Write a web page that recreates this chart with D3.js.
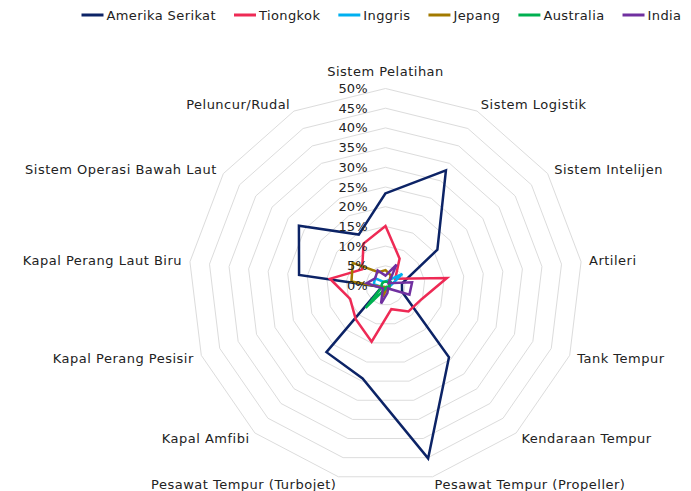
<!DOCTYPE html>
<html>
<head>
<meta charset="utf-8">
<script src="https://cdn.jsdelivr.net/npm/d3@7"></script>
<style>
  body { margin: 0; background: #fff; }
  text { font-family: "DejaVu Sans", sans-serif; fill: #222; }
</style>
</head>
<body>
<svg id="chart"></svg>
<script>
const categories = ["Sistem Pelatihan", "Sistem Logistik", "Sistem Intelijen", "Artileri", "Tank Tempur",
  "Kendaraan Tempur", "Pesawat Tempur (Propeller)", "Pesawat Tempur (Turbojet)", "Kapal Amfibi",
  "Kapal Perang Pesisir", "Kapal Perang Laut Biru", "Sistem Operasi Bawah Laut", "Peluncur/Rudal"];

const seriesNames = ["Amerika Serikat", "Tiongkok", "Inggris", "Jepang", "Australia", "India"];

const amerikaSerikat = [23.4, 33.0, 16.0, 4.2, 4.5, 24.3, 45.2, 24.3, 22.6, 1.0, 22.1, 26.7, 14.6];
const tiongkok       = [15.1, 7.7, 3.0, 15.7, 9.8, 8.8, 6.2, 14.7, 11.4, 9.6, 14.2, 7.2, 12.0];
const inggris        = [1.0, 1.5, 5.2, 1.5, 1.0, 0.5, 0.5, 0.5, 0.5, 1.0, 3.0, 3.2, 1.0];
const jepang         = [3.9, 2.9, 1.0, 1.0, 1.0, 0.5, 1.0, 2.9, 0.5, 1.0, 8.7, 10.1, 3.8];
const australia      = [1.0, 1.0, 1.5, 1.0, 1.0, 0.5, 0.5, 1.0, 7.6, 1.0, 1.0, 1.0, 1.0];
const india          = [2.5, 6.0, 1.0, 6.8, 6.5, 1.0, 2.0, 4.7, 1.0, 1.5, 4.8, 3.2, 4.3];

const tickValues = [0, 5, 10, 15, 20, 25, 30, 35, 40, 45, 50];

const allSeries = [amerikaSerikat, tiongkok, inggris, jepang, australia, india];
const colors = ["#0c2366", "#ee2a55", "#00b0f0", "#a27a00", "#00b050", "#7030a0"];

const width = 691, height = 491;
const cx = 385.5, cy = 285.5, R = 197;
const n = categories.length;

const svg = d3.select("#chart").attr("width", width).attr("height", height);

const r = d3.scaleLinear().domain([0, 50]).range([0, R]);
const angle = d3.scaleLinear().domain([0, n]).range([0, 2 * Math.PI]);

const g = svg.append("g").attr("transform", `translate(${cx},${cy})`);

const radial = d3.lineRadial()
  .angle((d, i) => angle(i))
  .radius(d => r(d))
  .curve(d3.curveLinearClosed);

// grid rings
g.selectAll(".ring")
  .data(tickValues.filter(t => t > 0))
  .enter()
  .append("path")
  .attr("class", "ring")
  .attr("d", t => radial(categories.map(() => t)))
  .attr("fill", "none")
  .attr("stroke", "#dcdcdc")
  .attr("stroke-width", 1);

// series
g.selectAll(".series")
  .data(allSeries)
  .enter()
  .append("path")
  .attr("class", "series")
  .attr("d", d => radial(d))
  .attr("fill", "none")
  .attr("stroke", (d, i) => colors[i])
  .attr("stroke-width", 2.5)
  .attr("stroke-linejoin", "miter");

// tick labels
g.selectAll(".tick")
  .data(tickValues)
  .enter()
  .append("text")
  .attr("class", "tick")
  .attr("x", -18)
  .attr("y", t => -r(t))
  .attr("dy", "0.35em")
  .attr("text-anchor", "end")
  .style("font-size", "13px")
  .text(t => t + "%");

// axis names
const labelR = R + 8;
g.selectAll(".axis-name")
  .data(categories)
  .enter()
  .append("text")
  .attr("class", "axis-name")
  .attr("x", (d, i) => labelR * Math.sin(angle(i)))
  .attr("y", (d, i) => {
    const y = -labelR * Math.cos(angle(i));
    return i === 0 ? y - 5 : y;
  })
  .attr("dy", (d, i) => i === 0 ? "0" : "0.35em")
  .attr("text-anchor", (d, i) => {
    if (i === 0) return "middle";
    return Math.sin(angle(i)) > 0 ? "start" : "end";
  })
  .style("font-size", "13px")
  .style("letter-spacing", "0.5px")
  .text(d => d);

// legend
const legend = svg.append("g").attr("transform", "translate(81.5,15)");
let lx = 0;
seriesNames.forEach((name, i) => {
  const item = legend.append("g").attr("transform", `translate(${lx},0)`);
  item.append("line")
    .attr("x1", 0).attr("x2", 22)
    .attr("y1", 0).attr("y2", 0)
    .attr("stroke", colors[i])
    .attr("stroke-width", 3);
  const t = item.append("text")
    .attr("x", 25)
    .attr("dy", "0.35em")
    .style("font-size", "13px")
    .style("letter-spacing", "0.4px")
    .text(name);
  lx += 25 + t.node().getComputedTextLength() + 18;
});
</script>
</body>
</html>
